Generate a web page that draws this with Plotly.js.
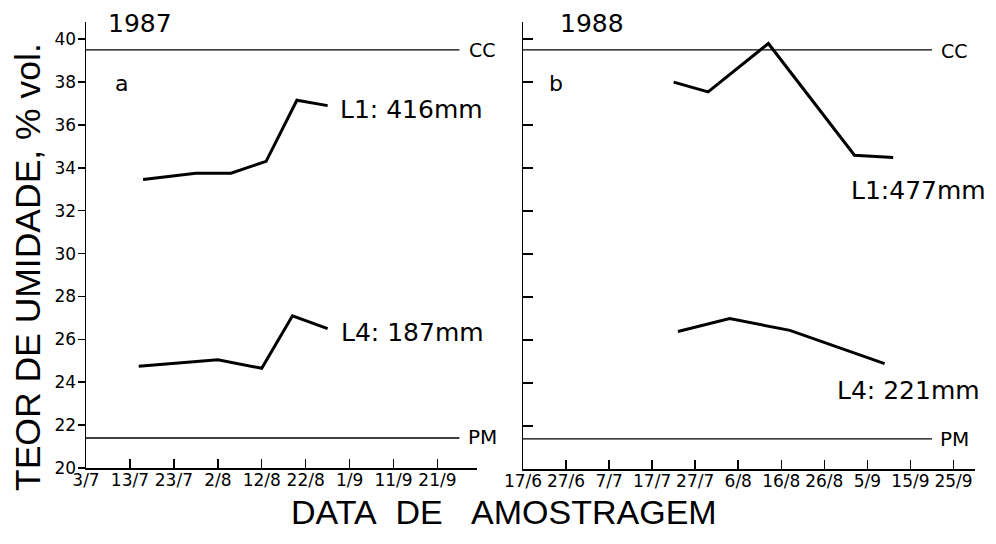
<!DOCTYPE html>
<html>
<head>
<meta charset="utf-8">
<script src="https://cdn.plot.ly/plotly-3.0.1.min.js"></script>
<style>html,body{margin:0;padding:0;background:#fff;}#chart{width:996px;height:544px;}</style>
</head>
<body>
<div id="chart"></div>
<script>
// ---- data ----
const datesL1_1987 = ['1987-07-16','1987-07-28','1987-08-05','1987-08-13','1987-08-20','1987-08-27'];
const valuesL1_1987 = [33.45, 33.75, 33.75, 34.3, 37.15, 36.9];
const datesL4_1987 = ['1987-07-15','1987-07-27','1987-08-02','1987-08-12','1987-08-19','1987-08-27'];
const valuesL4_1987 = [24.75, 24.95, 25.05, 24.65, 27.1, 26.5];
const datesL1_1988 = ['1988-07-22','1988-07-30','1988-08-13','1988-09-02','1988-09-11'];
const valuesL1_1988 = [38.0, 37.55, 39.8, 34.6, 34.5];
const datesL4_1988 = ['1988-07-23','1988-08-04','1988-08-18','1988-09-09'];
const valuesL4_1988 = [26.4, 27.0, 26.45, 24.9];

const ccLevel = 39.5;   // capacidade de campo
const pmLevel = 21.4;   // ponto de murcha
const refLine1987 = ['1987-07-03','1987-09-26'];
const refLine1988 = ['1988-06-17','1988-09-20'];

const ticks1987 = ['1987-07-03','1987-07-13','1987-07-23','1987-08-02','1987-08-12','1987-08-22','1987-09-01','1987-09-11','1987-09-21'];
const tickLabels1987 = ['3/7','13/7','23/7','2/8','12/8','22/8','1/9','11/9','21/9'];
const ticks1988 = ['1988-06-17','1988-06-27','1988-07-07','1988-07-17','1988-07-27','1988-08-06','1988-08-16','1988-08-26','1988-09-05','1988-09-15','1988-09-25'];
const tickLabels1988 = ['17/6','27/6','7/7','17/7','27/7','6/8','16/8','26/8','5/9','15/9','25/9'];
const yTicks = [20,22,24,26,28,30,32,34,36,38,40];

const range1987 = ['1987-07-03','1987-09-30'];
const range1988 = ['1988-06-17','1988-09-30'];
const yRange = [20, 40.8];

// ---- layout helpers (pixel -> paper) ----
const W = 996, H = 544;
const px = x => x / W;
const py = y => 1 - y / H;

const dataLine = {color:'#000', width:3};
const refLine = {color:'#000', width:1.3};

const traces = [
  {x: datesL1_1987, y: valuesL1_1987, xaxis:'x', yaxis:'y', mode:'lines', line:dataLine},
  {x: datesL4_1987, y: valuesL4_1987, xaxis:'x', yaxis:'y', mode:'lines', line:dataLine},
  {x: refLine1987, y: [ccLevel, ccLevel], xaxis:'x', yaxis:'y', mode:'lines', line:refLine},
  {x: refLine1987, y: [pmLevel, pmLevel], xaxis:'x', yaxis:'y', mode:'lines', line:refLine},
  {x: datesL1_1988, y: valuesL1_1988, xaxis:'x2', yaxis:'y2', mode:'lines', line:dataLine},
  {x: datesL4_1988, y: valuesL4_1988, xaxis:'x2', yaxis:'y2', mode:'lines', line:dataLine},
  {x: refLine1988, y: [ccLevel, ccLevel], xaxis:'x2', yaxis:'y2', mode:'lines', line:refLine},
  {x: refLine1988, y: [pmLevel, pmLevel], xaxis:'x2', yaxis:'y2', mode:'lines', line:refLine}
];

const tickFont = {family:'DejaVu Sans', size:17, color:'#000'};
const xCommon = {
  type:'date', showgrid:false, zeroline:false, showline:true, linecolor:'#000', linewidth:1.5,
  ticks:'inside', ticklen:9, tickwidth:1.5, tickcolor:'#000', tickmode:'array',
  tickfont:tickFont, fixedrange:true, ticklabelstandoff:-4
};
const yCommon = {
  range:yRange, showgrid:false, zeroline:false, showline:true, linecolor:'#000', linewidth:1.5,
  tickmode:'array', tickvals:yTicks, tickwidth:1.5, tickcolor:'#000', tickfont:tickFont, fixedrange:true
};

const annFont = (s) => ({family:'DejaVu Sans', size:s, color:'#000'});
const titleFont = (s) => ({family:'Liberation Sans', size:s, color:'#000'});
const ann = (text, x, y, size, extra) => Object.assign({
  text, x:px(x), y:py(y), xref:'paper', yref:'paper', showarrow:false,
  xanchor:'center', yanchor:'middle', font:annFont(size)
}, extra || {});

const layout = {
  width:W, height:H, margin:{l:0, r:0, t:0, b:0},
  paper_bgcolor:'#fff', plot_bgcolor:'rgba(0,0,0,0)', showlegend:false,
  xaxis: Object.assign({}, xCommon, {domain:[px(86), px(477)], range:range1987, tickvals:ticks1987, ticktext:tickLabels1987, anchor:'y'}),
  yaxis: Object.assign({}, yCommon, {domain:[py(468), py(22)], ticks:'outside', ticklen:7, ticklabelstandoff:-2, anchor:'x'}),
  xaxis2: Object.assign({}, xCommon, {domain:[px(523), px(975)], range:range1988, tickvals:ticks1988, ticktext:tickLabels1988, anchor:'y2'}),
  yaxis2: Object.assign({}, yCommon, {domain:[py(469), py(22)], ticks:'inside', ticklen:10, showticklabels:false, anchor:'x2'}),
  annotations: [
    ann('1987', 140, 24, 25),
    ann('1988', 592, 24, 25),
    ann('a', 121, 83, 22),
    ann('b', 556, 83, 22),
    ann('CC', 482, 50, 19),
    ann('CC', 954, 51, 19),
    ann('PM', 482, 437, 20),
    ann('PM', 954, 439, 20),
    ann('L1: 416mm', 411, 109, 25),
    ann('L4: 187mm', 412, 332, 25),
    ann('L1:477mm', 918, 190, 25),
    ann('L4: 221mm', 908, 390, 25),
    {text:'TEOR DE UMIDADE, % vol.', x:px(28), y:py(267), xref:'paper', yref:'paper', showarrow:false,
     textangle:-90, xanchor:'center', yanchor:'middle', font:titleFont(35.5)},
    {text:'DATA&nbsp;&nbsp;DE&nbsp;&nbsp;&nbsp;AMOSTRAGEM', x:px(504), y:py(512), xref:'paper', yref:'paper', showarrow:false,
     xanchor:'center', yanchor:'middle', font:titleFont(34)}
  ]
};

Plotly.newPlot('chart', traces, layout, {staticPlot:true, displayModeBar:false});
</script>
</body>
</html>
